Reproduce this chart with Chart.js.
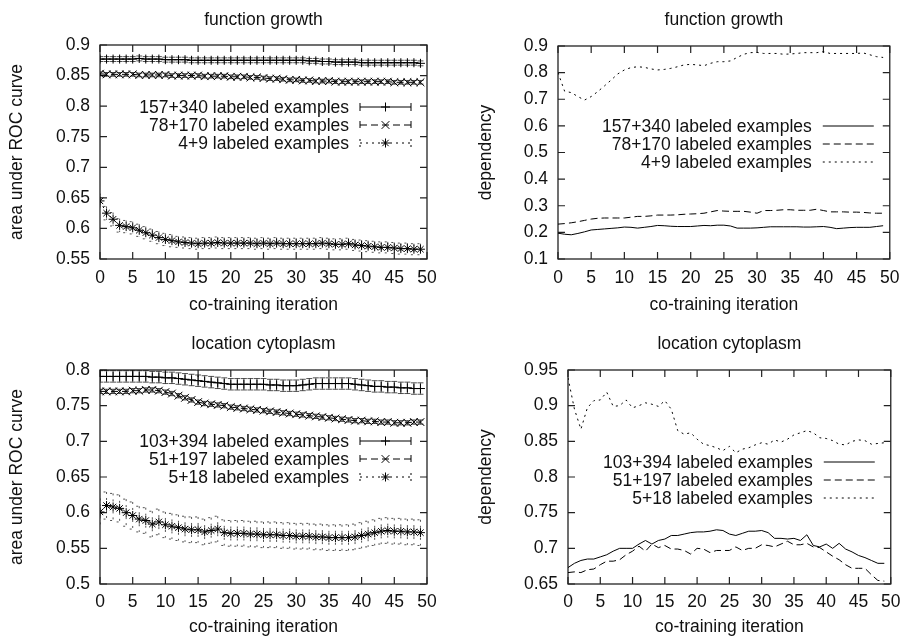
<!DOCTYPE html>
<html><head><meta charset="utf-8">
<script src="https://cdn.jsdelivr.net/npm/chart.js@4/dist/chart.umd.min.js"></script>
<style>
html,body{margin:0;padding:0;background:#fff;}
#wrap{position:relative;width:908px;height:638px;overflow:hidden;background:#fff;}
#wrap canvas{position:absolute;}
</style></head><body>
<div id="wrap">
<canvas id="c1" width="454" height="319" style="left:0;top:0"></canvas>
<canvas id="c2" width="454" height="319" style="left:454px;top:0"></canvas>
<canvas id="c3" width="454" height="319" style="left:0;top:319px"></canvas>
<canvas id="c4" width="454" height="319" style="left:454px;top:319px"></canvas>
</div>
<script>
// ---------- data ----------
const iterations = [0,1,2,3,4,5,6,7,8,9,10,11,12,13,14,15,16,17,18,19,20,21,22,23,24,25,26,27,28,29,30,31,32,33,34,35,36,37,38,39,40,41,42,43,44,45,46,47,48,49];
const xTicks = [0,5,10,15,20,25,30,35,40,45,50];

// function growth - AUC
const fgAucTicks = [0.55,0.6,0.65,0.7,0.75,0.8,0.85,0.9];
const fgAucLabels = ['157+340 labeled examples','78+170 labeled examples','4+9 labeled examples'];
const fgAucLarge = [0.877,0.877,0.877,0.877,0.877,0.877,0.878,0.877,0.877,0.877,0.876,0.876,0.876,0.876,0.875,0.875,0.875,0.875,0.875,0.875,0.875,0.875,0.875,0.875,0.875,0.875,0.875,0.875,0.875,0.875,0.875,0.875,0.874,0.874,0.873,0.873,0.872,0.872,0.872,0.872,0.871,0.871,0.871,0.871,0.871,0.871,0.871,0.871,0.871,0.870];
const fgAucLargeErr = [0.004,0.004,0.004,0.004,0.004,0.004,0.004,0.004,0.004,0.004,0.004,0.004,0.004,0.004,0.004,0.004,0.004,0.004,0.004,0.004,0.004,0.004,0.004,0.004,0.004,0.004,0.004,0.004,0.004,0.004,0.004,0.004,0.004,0.004,0.004,0.004,0.004,0.004,0.004,0.004,0.004,0.004,0.004,0.004,0.004,0.004,0.004,0.004,0.004,0.004];
const fgAucMid = [0.853,0.852,0.852,0.852,0.852,0.852,0.851,0.851,0.851,0.851,0.851,0.850,0.850,0.850,0.850,0.850,0.849,0.849,0.849,0.849,0.848,0.848,0.848,0.847,0.847,0.846,0.845,0.845,0.844,0.843,0.843,0.842,0.842,0.841,0.841,0.841,0.840,0.840,0.840,0.840,0.840,0.840,0.840,0.840,0.840,0.839,0.839,0.839,0.839,0.839];
const fgAucMidErr = [0.003,0.003,0.003,0.003,0.003,0.003,0.003,0.003,0.003,0.003,0.003,0.003,0.003,0.003,0.003,0.003,0.003,0.003,0.003,0.003,0.003,0.003,0.003,0.003,0.003,0.003,0.003,0.003,0.003,0.003,0.003,0.003,0.003,0.003,0.003,0.003,0.003,0.003,0.003,0.003,0.003,0.003,0.003,0.003,0.003,0.003,0.003,0.003,0.003,0.003];
const fgAucSmall = [0.645,0.625,0.615,0.605,0.603,0.601,0.597,0.593,0.589,0.585,0.582,0.580,0.578,0.577,0.576,0.575,0.576,0.576,0.577,0.576,0.576,0.576,0.576,0.576,0.575,0.576,0.575,0.576,0.575,0.575,0.575,0.575,0.575,0.575,0.576,0.575,0.574,0.574,0.575,0.573,0.572,0.571,0.570,0.569,0.569,0.568,0.567,0.567,0.566,0.566];
const fgAucSmallErr = [0.012,0.011,0.011,0.011,0.010,0.010,0.010,0.010,0.010,0.010,0.010,0.010,0.009,0.009,0.009,0.009,0.009,0.009,0.009,0.009,0.009,0.009,0.009,0.009,0.009,0.009,0.009,0.009,0.009,0.009,0.009,0.009,0.009,0.009,0.009,0.009,0.009,0.009,0.009,0.009,0.009,0.009,0.009,0.009,0.009,0.009,0.009,0.009,0.009,0.009];

// function growth - dependency
const fgDepTicks = [0.1,0.2,0.3,0.4,0.5,0.6,0.7,0.8,0.9];
const fgDepLabels = ['157+340 labeled examples','78+170 labeled examples','4+9 labeled examples'];
const fgDepLarge = [0.197,0.193,0.191,0.196,0.202,0.209,0.211,0.213,0.215,0.217,0.220,0.219,0.216,0.219,0.222,0.226,0.225,0.223,0.222,0.222,0.222,0.224,0.226,0.225,0.227,0.227,0.224,0.216,0.216,0.216,0.217,0.219,0.221,0.221,0.221,0.221,0.221,0.220,0.220,0.221,0.222,0.219,0.214,0.216,0.218,0.219,0.219,0.219,0.222,0.225];
const fgDepMid = [0.231,0.233,0.236,0.240,0.245,0.250,0.253,0.254,0.254,0.254,0.254,0.257,0.260,0.260,0.262,0.265,0.265,0.265,0.266,0.268,0.269,0.270,0.272,0.277,0.282,0.280,0.279,0.279,0.279,0.276,0.272,0.282,0.282,0.283,0.285,0.285,0.283,0.283,0.283,0.287,0.282,0.277,0.277,0.277,0.276,0.276,0.275,0.273,0.272,0.272];
const fgDepSmall = [0.800,0.730,0.725,0.710,0.697,0.710,0.729,0.750,0.772,0.795,0.810,0.819,0.822,0.820,0.814,0.810,0.812,0.816,0.822,0.829,0.831,0.829,0.826,0.835,0.841,0.841,0.844,0.857,0.869,0.875,0.876,0.872,0.872,0.872,0.869,0.870,0.872,0.875,0.875,0.875,0.879,0.872,0.872,0.872,0.872,0.872,0.874,0.867,0.860,0.857];

// location cytoplasm - AUC
const lcAucTicks = [0.5,0.55,0.6,0.65,0.7,0.75,0.8];
const lcAucLabels = ['103+394 labeled examples','51+197 labeled examples','5+18 labeled examples'];
const lcAucLarge = [0.791,0.791,0.791,0.791,0.791,0.791,0.791,0.791,0.790,0.790,0.789,0.789,0.788,0.787,0.786,0.785,0.784,0.783,0.782,0.781,0.780,0.780,0.780,0.780,0.780,0.780,0.779,0.779,0.778,0.778,0.778,0.779,0.780,0.781,0.781,0.781,0.781,0.781,0.781,0.780,0.779,0.778,0.777,0.777,0.776,0.776,0.775,0.775,0.774,0.774];
const lcAucLargeErr = [0.008,0.008,0.008,0.008,0.008,0.008,0.008,0.008,0.008,0.008,0.008,0.008,0.008,0.008,0.008,0.008,0.008,0.008,0.008,0.008,0.008,0.008,0.008,0.008,0.008,0.008,0.008,0.008,0.008,0.008,0.008,0.008,0.008,0.008,0.008,0.008,0.008,0.008,0.008,0.008,0.008,0.008,0.008,0.008,0.008,0.008,0.008,0.008,0.008,0.008];
const lcAucMid = [0.770,0.770,0.770,0.770,0.770,0.771,0.771,0.772,0.772,0.771,0.769,0.767,0.764,0.761,0.758,0.755,0.753,0.752,0.751,0.750,0.748,0.747,0.746,0.745,0.744,0.743,0.742,0.741,0.740,0.739,0.738,0.737,0.736,0.735,0.734,0.733,0.732,0.731,0.730,0.729,0.729,0.728,0.728,0.727,0.727,0.726,0.726,0.726,0.727,0.727];
const lcAucMidErr = [0.003,0.003,0.003,0.003,0.003,0.003,0.003,0.003,0.003,0.003,0.003,0.003,0.003,0.003,0.003,0.003,0.003,0.003,0.003,0.003,0.003,0.003,0.003,0.003,0.003,0.003,0.003,0.003,0.003,0.003,0.003,0.003,0.003,0.003,0.003,0.003,0.003,0.003,0.003,0.003,0.003,0.003,0.003,0.003,0.003,0.003,0.003,0.003,0.003,0.003];
const lcAucSmall = [0.601,0.610,0.608,0.606,0.600,0.596,0.591,0.589,0.584,0.587,0.583,0.581,0.579,0.577,0.576,0.576,0.573,0.575,0.577,0.572,0.571,0.571,0.571,0.570,0.570,0.569,0.569,0.569,0.568,0.568,0.567,0.567,0.567,0.566,0.566,0.565,0.565,0.565,0.565,0.566,0.568,0.570,0.572,0.574,0.575,0.574,0.574,0.573,0.573,0.572];
const lcAucSmallErr = [0.019,0.019,0.019,0.019,0.019,0.019,0.018,0.018,0.018,0.018,0.018,0.018,0.018,0.018,0.018,0.018,0.018,0.018,0.018,0.018,0.018,0.018,0.018,0.018,0.018,0.018,0.018,0.018,0.018,0.018,0.018,0.018,0.018,0.018,0.018,0.018,0.018,0.018,0.018,0.018,0.018,0.018,0.018,0.018,0.018,0.018,0.018,0.018,0.018,0.018];

// location cytoplasm - dependency
const lcDepTicks = [0.65,0.7,0.75,0.8,0.85,0.9,0.95];
const lcDepLabels = ['103+394 labeled examples','51+197 labeled examples','5+18 labeled examples'];
const lcDepLarge = [0.673,0.679,0.683,0.685,0.685,0.688,0.691,0.696,0.700,0.700,0.700,0.706,0.711,0.706,0.711,0.713,0.718,0.718,0.720,0.722,0.723,0.723,0.724,0.726,0.725,0.720,0.718,0.721,0.724,0.724,0.725,0.722,0.714,0.714,0.713,0.714,0.711,0.719,0.704,0.702,0.706,0.700,0.707,0.699,0.695,0.690,0.687,0.683,0.679,0.679];
const lcDepMid = [0.666,0.667,0.666,0.670,0.671,0.677,0.682,0.682,0.684,0.691,0.696,0.703,0.696,0.706,0.701,0.704,0.699,0.699,0.697,0.692,0.700,0.699,0.694,0.697,0.697,0.697,0.702,0.697,0.700,0.700,0.705,0.704,0.702,0.706,0.710,0.705,0.705,0.707,0.702,0.701,0.695,0.689,0.684,0.677,0.672,0.672,0.672,0.663,0.655,0.654];
const lcDepSmall = [0.939,0.895,0.867,0.897,0.907,0.908,0.919,0.899,0.900,0.908,0.897,0.900,0.904,0.902,0.899,0.907,0.895,0.865,0.860,0.862,0.853,0.846,0.844,0.841,0.837,0.843,0.834,0.839,0.841,0.845,0.848,0.846,0.852,0.849,0.853,0.859,0.862,0.865,0.862,0.855,0.854,0.851,0.846,0.845,0.850,0.852,0.851,0.846,0.847,0.848];

const titleFG = 'function growth';
const titleLC = 'location cytoplasm';
const xTitle = 'co-training iteration';
const yTitleAuc = 'area under ROC curve';
const yTitleDep = 'dependency';

// ---------- styling ----------
const FONT = "'Liberation Sans', Arial, Helvetica, sans-serif";
const FS = 17.5;
const INK = '#111';
const LINE = '#000';
const DASH_MID = [7, 4];
const DASH_SMALL = [2, 4];

function pts(vals) { return iterations.map((x, i) => ({x: x, y: vals[i]})); }

// inward ticks + border, gnuplot style
const gnuFrame = {
  id: 'gnuFrame',
  beforeDatasetsDraw(chart, args, o) {
    const {ctx, chartArea: a} = chart;
    const xs = chart.scales.x, ys = chart.scales.y;
    ctx.save();
    ctx.strokeStyle = o.color; ctx.lineWidth = o.width; ctx.setLineDash([]);
    ctx.beginPath();
    xs.ticks.forEach(t => {
      const p = xs.getPixelForValue(t.value);
      ctx.moveTo(p, a.bottom); ctx.lineTo(p, a.bottom - o.tickLen);
      ctx.moveTo(p, a.top); ctx.lineTo(p, a.top + o.tickLen);
    });
    ys.ticks.forEach(t => {
      const p = ys.getPixelForValue(t.value);
      ctx.moveTo(a.left, p); ctx.lineTo(a.left + o.tickLen, p);
      ctx.moveTo(a.right, p); ctx.lineTo(a.right - o.tickLen, p);
    });
    ctx.stroke();
    ctx.lineWidth = o.borderWidth;
    ctx.strokeRect(a.left, a.top, a.right - a.left, a.bottom - a.top);
    ctx.restore();
  }
};

// error bars with caps
const gnuErr = {
  id: 'gnuErr',
  beforeDatasetsDraw(chart, args, o) {
    const {ctx, chartArea: a} = chart;
    const xs = chart.scales.x, ys = chart.scales.y;
    ctx.save();
    ctx.beginPath(); ctx.rect(a.left, a.top, a.right - a.left, a.bottom - a.top); ctx.clip();
    chart.data.datasets.forEach(ds => {
      if (!ds.errors) return;
      ctx.strokeStyle = o.color; ctx.lineWidth = 1; ctx.setLineDash(ds.borderDash || []);
      ctx.beginPath();
      ds.data.forEach((d, i) => {
        const px = xs.getPixelForValue(d.x);
        const hi = ys.getPixelForValue(d.y + ds.errors[i]);
        const lo = ys.getPixelForValue(d.y - ds.errors[i]);
        ctx.moveTo(px, hi); ctx.lineTo(px, lo);
        ctx.moveTo(px - o.cap, hi); ctx.lineTo(px + o.cap, hi);
        ctx.moveTo(px - o.cap, lo); ctx.lineTo(px + o.cap, lo);
      });
      ctx.stroke();
    });
    ctx.restore();
  }
};

function drawMark(ctx, style, r, x, y) {
  ctx.beginPath();
  const d = r * Math.SQRT1_2;
  if (style === 'cross' || style === 'star') {
    ctx.moveTo(x - r, y); ctx.lineTo(x + r, y);
    ctx.moveTo(x, y - r); ctx.lineTo(x, y + r);
  }
  if (style === 'crossRot' || style === 'star') {
    ctx.moveTo(x - d, y - d); ctx.lineTo(x + d, y + d);
    ctx.moveTo(x - d, y + d); ctx.lineTo(x + d, y - d);
  }
  ctx.stroke();
}

// gnuplot-style key inside the plot
const gnuKey = {
  id: 'gnuKey',
  afterDraw(chart, args, o) {
    const {ctx, chartArea: a} = chart;
    ctx.save();
    ctx.font = FS + 'px ' + FONT;
    ctx.textAlign = 'right'; ctx.textBaseline = 'middle';
    chart.data.datasets.forEach((ds, i) => {
      const yy = a.top + o.top + i * o.rowGap;
      ctx.fillStyle = INK;
      ctx.fillText(ds.label, a.right - o.textRight, yy + 1);
      const x0 = a.right - o.sampleLeft, x1 = a.right - o.sampleRight;
      ctx.strokeStyle = LINE; ctx.lineWidth = 1; ctx.setLineDash(ds.borderDash || []);
      ctx.beginPath(); ctx.moveTo(x0, yy); ctx.lineTo(x1, yy); ctx.stroke();
      if (ds.errors) {
        ctx.beginPath();
        ctx.moveTo(x0, yy - 4); ctx.lineTo(x0, yy + 4);
        ctx.moveTo(x1, yy - 4); ctx.lineTo(x1, yy + 4);
        ctx.stroke();
      }
      if (ds.pointRadius > 0) {
        ctx.setLineDash([]);
        drawMark(ctx, ds.pointStyle, ds.pointRadius, (x0 + x1) / 2, yy);
      }
    });
    ctx.restore();
  }
};

function makeChart(id, cfg) {
  const datasets = cfg.series.map((s, i) => ({
    label: cfg.labels[i],
    data: pts(s.vals),
    errors: s.errs || null,
    borderColor: LINE,
    borderWidth: 1,
    borderDash: [[], DASH_MID, DASH_SMALL][i],
    tension: 0,
    fill: false,
    pointStyle: cfg.marks ? ['cross', 'crossRot', 'star'][i] : false,
    pointRadius: cfg.marks ? [4.5, 5.5, 4.5][i] : 0,
    pointBorderColor: LINE,
    pointBackgroundColor: 'rgba(0,0,0,0)',
    pointBorderWidth: 1
  }));
  return new Chart(document.getElementById(id), {
    type: 'line',
    data: {datasets},
    plugins: [gnuFrame, gnuErr, gnuKey],
    options: {
      responsive: false,
      animation: false,
      devicePixelRatio: 1,
      events: [],
      layout: {padding: {left: 0, right: cfg.padRight, top: 0, bottom: 0}},
      plugins: {
        legend: {display: false},
        tooltip: {enabled: false},
        title: {display: true, text: cfg.title, fullSize: false, color: INK,
                font: {family: FONT, size: FS, weight: 'normal', lineHeight: 1.2},
                padding: {top: cfg.titleTop, bottom: cfg.titleBottom}},
        gnuFrame: {color: '#222', width: 1.2, borderWidth: 1.3, tickLen: 7},
        gnuErr: {color: 'rgba(0,0,0,0.68)', cap: 3},
        gnuKey: {top: cfg.keyTop, rowGap: 18, textRight: 78, sampleLeft: 67, sampleRight: 16}
      },
      scales: {
        x: {
          type: 'linear', min: 0, max: 50,
          grid: {display: false, drawTicks: false},
          border: {display: false},
          afterBuildTicks: s => { s.ticks = xTicks.map(v => ({value: v})); },
          afterFit: s => { s.height = cfg.xAxisH; },
          ticks: {color: INK, font: {family: FONT, size: FS}, padding: cfg.xTickPad, maxRotation: 0, autoSkip: false, callback: v => String(v)},
          title: {display: true, text: xTitle, color: INK, font: {family: FONT, size: FS, lineHeight: 1.2}, padding: {top: 0, bottom: cfg.xTitlePad}}
        },
        y: {
          type: 'linear', min: cfg.yTicks[0], max: cfg.yTicks[cfg.yTicks.length - 1],
          grid: {display: false, drawTicks: false},
          border: {display: false},
          afterBuildTicks: s => { s.ticks = cfg.yTicks.map(v => ({value: v})); },
          afterFit: s => { s.width = cfg.yAxisW; },
          ticks: {color: INK, font: {family: FONT, size: FS}, padding: 10, autoSkip: false, callback: v => String(v)},
          title: {display: true, text: cfg.yTitle, color: INK, font: {family: FONT, size: FS, lineHeight: 1.2}, padding: {top: cfg.yTitlePad, bottom: 0}}
        }
      }
    }
  });
}

makeChart('c1', {
  title: titleFG, yTitle: yTitleAuc, yTicks: fgAucTicks, labels: fgAucLabels, marks: true,
  series: [{vals: fgAucLarge, errs: fgAucLargeErr}, {vals: fgAucMid, errs: fgAucMidErr}, {vals: fgAucSmall, errs: fgAucSmallErr}],
  padRight: 27, titleTop: 9.5, titleBottom: 14.5, yAxisW: 100, yTitlePad: 6.5, xAxisH: 60, xTickPad: 8.5, xTitlePad: 3, keyTop: 62
});
makeChart('c2', {
  title: titleFG, yTitle: yTitleDep, yTicks: fgDepTicks, labels: fgDepLabels, marks: false,
  series: [{vals: fgDepLarge}, {vals: fgDepMid}, {vals: fgDepSmall}],
  padRight: 13, titleTop: 10, titleBottom: 15, yAxisW: 104, yTitlePad: 21.5, xAxisH: 60, xTickPad: 8.5, xTitlePad: 3, keyTop: 80
});
makeChart('c3', {
  title: titleLC, yTitle: yTitleAuc, yTicks: lcAucTicks, labels: lcAucLabels, marks: true,
  series: [{vals: lcAucLarge, errs: lcAucLargeErr}, {vals: lcAucMid, errs: lcAucMidErr}, {vals: lcAucSmall, errs: lcAucSmallErr}],
  padRight: 27, titleTop: 15, titleBottom: 15, yAxisW: 100, yTitlePad: 6.5, xAxisH: 54, xTickPad: 7.5, xTitlePad: 0, keyTop: 71
});
makeChart('c4', {
  title: titleLC, yTitle: yTitleDep, yTicks: lcDepTicks, labels: lcDepLabels, marks: false,
  series: [{vals: lcDepLarge}, {vals: lcDepMid}, {vals: lcDepSmall}],
  padRight: 12, titleTop: 15, titleBottom: 15, yAxisW: 114, yTitlePad: 21.5, xAxisH: 54, xTickPad: 7.5, xTitlePad: 0, keyTop: 92
});
</script>
</body></html>
